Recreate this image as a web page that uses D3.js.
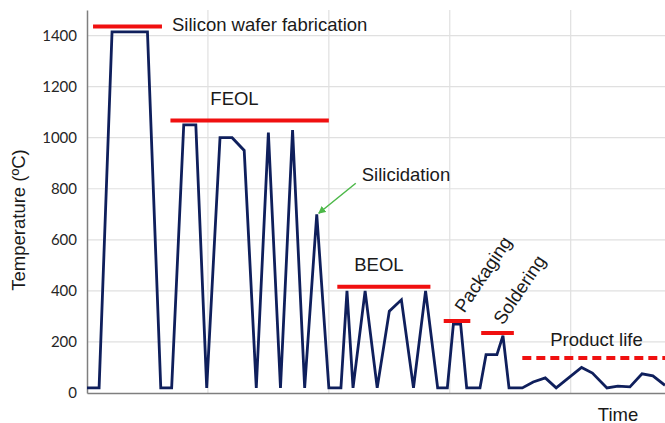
<!DOCTYPE html>
<html>
<head>
<meta charset="utf-8">
<script src="https://cdnjs.cloudflare.com/ajax/libs/d3/7.8.5/d3.min.js"></script>
<style>
  body { margin: 0; background: #fff; }
  .axis text { font-family: Lato, "Liberation Sans", sans-serif; font-size: 15px; fill: #262626; }
  .label { font-family: "Liberation Sans", Arial, sans-serif; font-size: 18.5px; fill: #1a1a1a; }
</style>
</head>
<body>
<div id="chart"></div>
<script>
(function() {
  // temperature profile, time in arbitrary units
  var times = [0, 1, 2.07, 5, 6.1, 7, 8, 9, 9.9, 11, 12, 13, 14, 15, 16, 17, 18, 19, 20, 21,
               21.5, 22, 23, 24, 25, 26, 27, 28, 29, 29.8, 30.3, 30.9, 31.4, 32.5, 33, 33.9, 34.4, 34.9,
               36, 36.9, 37.9, 38.8, 40.9, 41.8, 43, 43.9, 44.9, 45.9, 46.8, 47.8]
  var temps = [20, 20, 1414, 1414, 20, 20, 1050, 1050, 20, 1000, 1000, 950, 20, 1020, 20, 1030, 20, 700, 20, 20,
               400, 20, 400, 20, 320, 365, 20, 400, 20, 20, 270, 270, 20, 20, 150, 150, 225, 20,
               20, 43, 59, 20, 100, 78, 20, 27, 24, 75, 67, 30]

  var yTicks = [0, 200, 400, 600, 800, 1000, 1200, 1400]
  var xGrid = [10, 20, 30, 40]

  // process phases: name, start, end, level
  var phaseNames = ["Silicon wafer fabrication", "FEOL", "BEOL", "Packaging", "Soldering", "Product life"]
  var phaseStart = [0.5, 6.9, 20.7, 29.5, 32.6, 36.0]
  var phaseEnd = [6.2, 20.0, 28.4, 31.7, 35.3, 47.8]
  var phaseLevel = [1435, 1067, 416, 282, 235, 137]

  var width = 665, height = 423
  var margin = {top: 10, right: 0, bottom: 30, left: 87}

  var svg = d3.select("#chart").append("svg")
    .attr("width", width)
    .attr("height", height)

  var x = d3.scaleLinear().domain([0, 47.8]).range([margin.left, width - margin.right])
  var y = d3.scaleLinear().domain([0, 1500]).range([height - margin.bottom, margin.top])

  // grid
  svg.append("g").selectAll("line")
    .data(yTicks.slice(1))
    .enter().append("line")
    .attr("x1", margin.left).attr("x2", width)
    .attr("y1", d => y(d)).attr("y2", d => y(d))
    .attr("stroke", "#e0e0e0").attr("stroke-width", 1.2)

  svg.append("g").selectAll("line")
    .data(xGrid)
    .enter().append("line")
    .attr("x1", d => x(d)).attr("x2", d => x(d))
    .attr("y1", y(0)).attr("y2", margin.top)
    .attr("stroke", "#e0e0e0").attr("stroke-width", 1.2)

  // axes
  var yAxis = d3.axisLeft(y).tickValues(yTicks).tickFormat(d3.format("d")).tickSize(0).tickPadding(10)
  svg.append("g")
    .attr("class", "axis y-axis")
    .attr("transform", "translate(" + margin.left + ",0)")
    .call(yAxis)
    .call(g => g.select(".domain").attr("stroke", "#7f7f7f").attr("stroke-width", 1.5))

  var xAxis = d3.axisBottom(x).tickValues([]).tickSize(0).tickSizeOuter(0)
  svg.append("g")
    .attr("class", "axis x-axis")
    .attr("transform", "translate(0," + y(0) + ")")
    .call(xAxis)
    .call(g => g.select(".domain").attr("stroke", "#7f7f7f").attr("stroke-width", 1.5))

  // temperature line
  var line = d3.line()
    .x((d, i) => x(times[i]))
    .y(d => y(d))

  svg.append("path")
    .datum(temps)
    .attr("d", line)
    .attr("fill", "none")
    .attr("stroke", "#0f1f5c")
    .attr("stroke-width", 2.8)
    .attr("stroke-linejoin", "miter")

  // phase bars
  svg.append("g").selectAll("line")
    .data(phaseNames)
    .enter().append("line")
    .attr("x1", (d, i) => x(phaseStart[i]))
    .attr("x2", (d, i) => x(phaseEnd[i]))
    .attr("y1", (d, i) => y(phaseLevel[i]))
    .attr("y2", (d, i) => y(phaseLevel[i]))
    .attr("stroke", "#f01010")
    .attr("stroke-width", 4)
    .attr("stroke-dasharray", (d, i) => i === 5 ? "9,5" : null)

  // phase labels
  function label(txt, px, py, rot, anchor) {
    var t = svg.append("text")
      .attr("class", "label")
      .attr("text-anchor", anchor || "start")
      .attr("dominant-baseline", "central")
      .text(txt)
    if (rot) t.attr("transform", "translate(" + px + "," + py + ") rotate(" + rot + ")")
    else t.attr("x", px).attr("y", py)
    return t
  }

  label(phaseNames[0], x(phaseEnd[0]) + 10, y(phaseLevel[0]) - 2)
  label(phaseNames[1], x(10.2), y(phaseLevel[1]) - 22)
  label(phaseNames[2], x(22.1), y(phaseLevel[2]) - 22)
  label(phaseNames[3], x(30.5) + 3, y(phaseLevel[3]) - 11, -56)
  label(phaseNames[4], x(33.7) + 3, y(phaseLevel[4]) - 11, -56)
  label(phaseNames[5], x(38.3), y(phaseLevel[5]) - 19)

  // silicidation callout
  var tip = [x(19), y(700)]
  svg.append("defs").append("marker")
    .attr("id", "arr")
    .attr("viewBox", "0 0 10 10")
    .attr("refX", 9).attr("refY", 5)
    .attr("markerWidth", 5).attr("markerHeight", 5)
    .attr("orient", "auto")
    .append("path").attr("d", "M0,0 L10,5 L0,10 z").attr("fill", "#4cb848")

  svg.append("line")
    .attr("x1", tip[0] + 39).attr("y1", tip[1] - 31)
    .attr("x2", tip[0] + 2).attr("y2", tip[1] - 1)
    .attr("stroke", "#4cb848").attr("stroke-width", 1.5)
    .attr("marker-end", "url(#arr)")

  label("Silicidation", tip[0] + 45, tip[1] - 40)

  // axis titles
  label("Time", 618, 414, 0, "middle")
  label("Temperature (ºC)", 18, 220, -90, "middle")
})()
</script>
</body>
</html>
